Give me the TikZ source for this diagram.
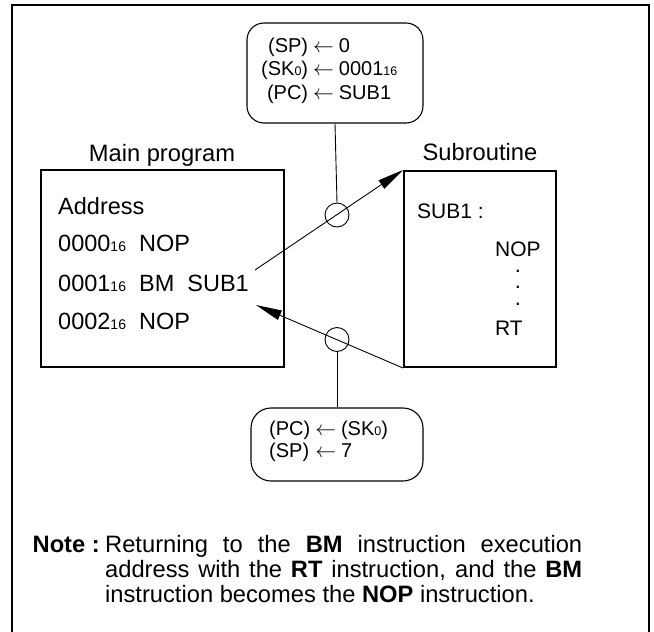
\documentclass[tikz,border=0pt]{standalone}
\usepackage{fontspec}
\setmainfont{Liberation Sans}
\usetikzlibrary{arrows.meta}
\newcommand\hexsub{{\fontsize{14}{14}\selectfont 16}}
\newcommand\hexsubs{{\fontsize{12.5}{12.5}\selectfont 16}}
\newcommand\skzero{SK{\fontsize{12.5}{12.5}\selectfont 0}}
\newcommand\larr{$\leftarrow$}
\begin{document}
\begin{tikzpicture}[x=1pt,y=-1pt,
  frame/.style={line width=2.6pt},
  progbox/.style={draw, line width=2pt, inner sep=0pt},
  regbox/.style={draw, line width=1.1pt, rounded corners=17pt, inner sep=0pt},
  ring/.style={draw, circle, line width=0.9pt, minimum size=24pt, inner sep=0pt},
  link/.style={line width=0.9pt},
  flow/.style={line width=0.9pt, -{Triangle[length=26pt,width=10pt]}},
  lbl/.style={inner sep=0pt, font=\fontsize{23.7}{25}\selectfont},
  mtext/.style={inner sep=0pt, anchor=base west, font=\fontsize{23.5}{25}\selectfont},
  stext/.style={inner sep=0pt, anchor=base west, font=\fontsize{21}{23}\selectfont},
  dotc/.style={inner sep=0pt, anchor=base, font=\fontsize{22}{16.5}\selectfont},
  rtext/.style={inner sep=0pt, anchor=base west, font=\fontsize{20}{23.5}\selectfont}
]
\useasboundingbox (0,0) rectangle (654,632);
% outer frame (open at the bottom edge of the image)
\draw[frame] (12,645) -- (12,5) -- (649,5) -- (649,645);

% register boxes
\node[regbox, minimum width=176pt, minimum height=100pt] (top) at (335,73) {};
\node[rtext] (toptext) at (261,52) {\begin{tabular}[t]{@{}r@{\hspace{5pt}}c@{\hspace{5pt}}l@{}}
(SP) & \larr & 0\\
(\skzero) & \larr & 0001\hexsubs\\
(PC) & \larr & SUB1
\end{tabular}};

\node[regbox, minimum width=172pt, minimum height=73pt, rounded corners=20pt] (bot) at (337,444.5) {};
\node[rtext, font=\fontsize{20}{22}\selectfont] (bottext) at (269,435) {\begin{tabular}[t]{@{}l@{\hspace{5pt}}c@{\hspace{5pt}}l@{}}
(PC) & \larr & (\skzero)\\
(SP) & \larr & 7
\end{tabular}};

% program boxes
\node[lbl, anchor=base] (mainlbl) at (162,161) {Main program};
\node[progbox, minimum width=243pt, minimum height=197pt] (main) at (162.5,268.5) {};
\node[mtext] (addr) at (58,214) {Address};
\node[mtext] (l0) at (58,251) {0000\hexsub\ \ NOP};
\node[mtext] (l1) at (58,291) {0001\hexsub\ \ BM\ \ SUB1};
\node[mtext] (l2) at (58,329) {0002\hexsub\ \ NOP};

\node[lbl, anchor=base] (sublbl) at (480,160) {Subroutine};
\node[progbox, minimum width=152pt, minimum height=196pt] (sub) at (480,269) {};
\node[stext] (s0) at (417,218) {SUB1 :};
\node[stext] (s1) at (495,256) {NOP};
\node[dotc] (dots) at (518,272) {\begin{tabular}[t]{@{}c@{}}.\\.\\.\end{tabular}};
\node[stext] (s2) at (495,335) {RT};

% circles and connectors
\node[ring] (c1) at (337,215) {};
\node[ring] (c2) at (337,339.5) {};
\coordinate (callpt) at (255,270);
\coordinate (retpt) at (256,305);
\draw[link] (top.south) -- (c1.north);
\draw[link] (c2.south) -- (bot.north);
\draw[flow] (callpt) -- (sub.north west);
\draw[flow] (sub.south west) -- (retpt);

% note
\node[lbl, anchor=base east, font=\fontsize{23.7}{25}\bfseries] (notelbl) at (100,552) {Note :};
\node[lbl, anchor=base west, text width=477pt, align=justify] (note) at (105,552) {Returning to the \textbf{BM} instruction execution\linebreak address with the \textbf{RT} instruction, and the \textbf{BM}\linebreak instruction becomes the \textbf{NOP} instruction.};
\end{tikzpicture}
\end{document}
